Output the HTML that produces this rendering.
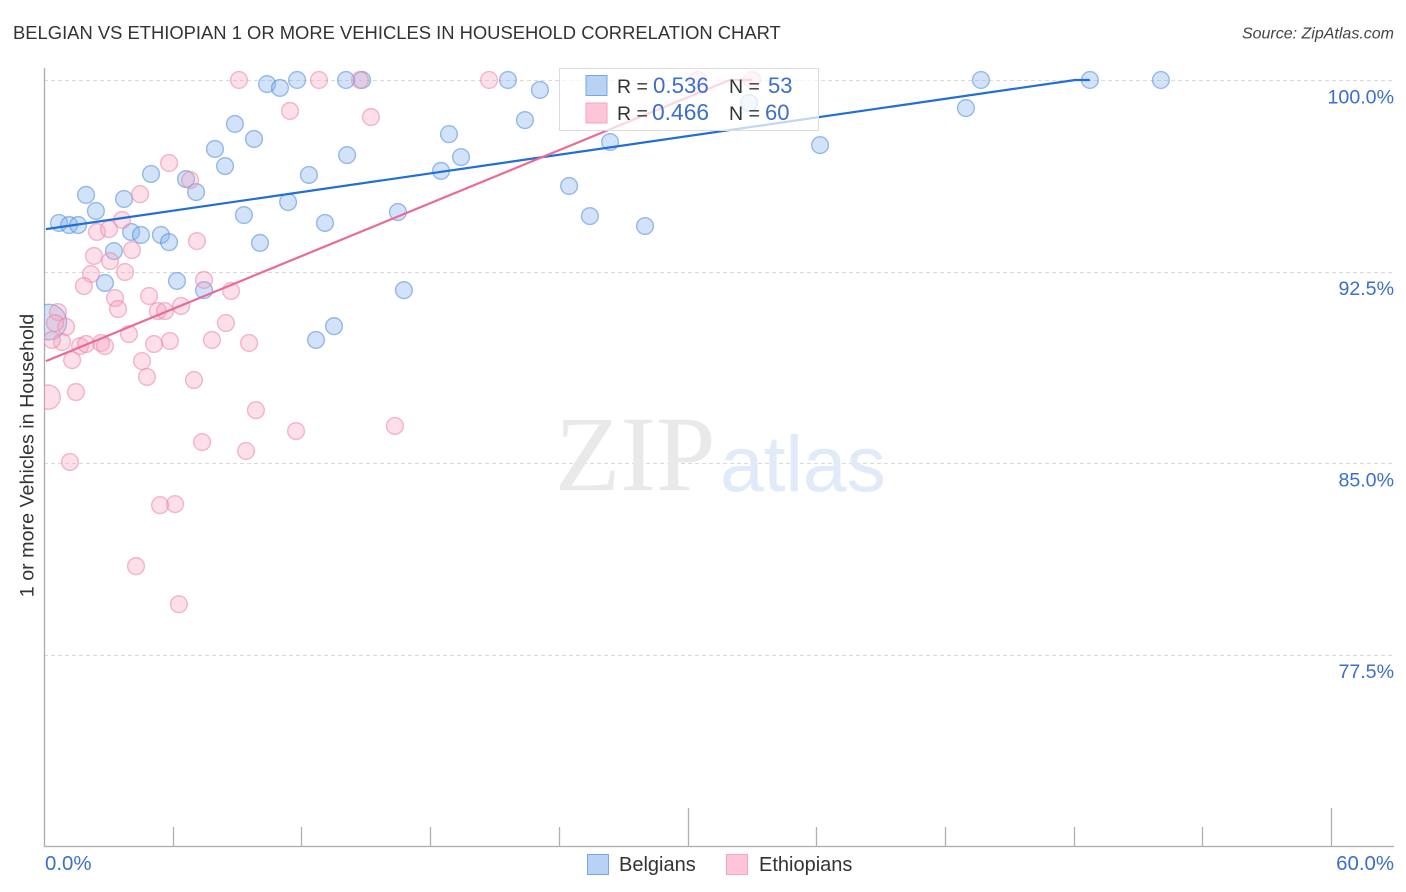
<!DOCTYPE html>
<html lang="en">
<head>
<meta charset="utf-8">
<title>Belgian vs Ethiopian 1 or More Vehicles in Household Correlation Chart</title>
<style>
html,body{margin:0;padding:0;background:#fff;}
body{width:1406px;height:892px;overflow:hidden;}
svg{display:block;font-family:"Liberation Sans",sans-serif;}
</style>
</head>
<body>
<svg id="chart" width="1406" height="892" viewBox="0 0 1406 892" xmlns="http://www.w3.org/2000/svg">
  <defs>
    <clipPath id="plot-clip"><rect x="44" y="60" width="1350" height="786"/></clipPath>
  </defs>
  <text x="13" y="39" font-size="18.4" fill="#333">BELGIAN VS ETHIOPIAN 1 OR MORE VEHICLES IN HOUSEHOLD CORRELATION CHART</text>
  <text x="1394" y="38.500" font-size="16" font-style="italic" fill="#444" text-anchor="end">Source: ZipAtlas.com</text>
  <g id="grid"></g>
  <g>
    <text x="555" y="490" font-family="'Liberation Serif',serif" font-size="107" fill="#e9e9e9">ZIP</text>
    <text x="720" y="491" font-size="78.500" fill="#e0eaf9">atlas</text>
  </g>
  <g id="axes"></g>
  <g id="points" clip-path="url(#plot-clip)"></g>
  <g id="trends" clip-path="url(#plot-clip)"></g>
  <text transform="translate(33.500,455.500) rotate(-90)" font-size="19.700" fill="#333" text-anchor="middle">1 or more Vehicles in Household</text>
  <g id="ytick-labels"></g>
  <g id="xtick-labels"></g>
  <g>
    <rect x="559.500" y="68.500" width="259" height="62" fill="#fff" fill-opacity="0.72" stroke="#dcdcdc"/>
    <rect x="586" y="75.500" width="21" height="20" fill="#b7d2f5" stroke="#7ba7e0"/>
    <rect x="586" y="103" width="21" height="20" fill="#fec5d6" stroke="#f0a6bf"/>
    <text x="617" y="93" font-size="19.500" fill="#333">R =</text>
    <text x="653" y="93" font-size="22.300" fill="#3b6fc9">0.536</text>
    <text x="729" y="93" font-size="19.500" fill="#333">N =</text>
    <text x="768" y="93" font-size="22" fill="#3b6fc9">53</text>
    <text x="617" y="120" font-size="19.500" fill="#333">R =</text>
    <text x="652" y="120" font-size="22.800" fill="#3b6fc9">0.466</text>
    <text x="729" y="120" font-size="19.500" fill="#333">N =</text>
    <text x="765" y="120" font-size="22" fill="#3b6fc9">60</text>
  </g>
  <g>
    <rect x="587.500" y="854.500" width="21" height="20" fill="#b7d2f5" stroke="#7ba7e0"/>
    <text x="619" y="871" font-size="20" fill="#333">Belgians</text>
    <rect x="726.500" y="854.500" width="21" height="20" fill="#fec5d6" stroke="#f0a6bf"/>
    <text x="759" y="871" font-size="20" fill="#333">Ethiopians</text>
  </g>
</svg>
<script>
const yTickValues = [100, 92.5, 85, 77.5];
const yTickLabels = ["100.0%", "92.5%", "85.0%", "77.5%"];
const xTickValues = [0, 6, 12, 18, 24, 30, 36, 42, 48, 54, 60];
const xTickMajor = [30, 60];
const xEdgeLabels = ["0.0%", "60.0%"];

const belgianX = [0.70,1.17,1.59,1.96,2.42,3.26,2.84,3.73,4.06,4.52,4.99,5.45,5.83,6.20,6.62,7.09,7.46,7.97,8.44,8.90,9.32,9.79,10.07,10.40,11.00,11.38,11.80,12.35,12.68,13.10,13.52,14.08,14.13,14.83,16.50,16.78,18.51,18.88,19.44,21.63,22.42,23.12,24.48,25.45,26.39,28.02,32.87,36.18,42.98,43.68,48.76,52.07,0.23];
const belgianY = [94.40,94.32,94.32,95.50,94.87,93.30,92.05,95.34,94.05,93.93,96.32,93.93,93.65,92.13,96.12,95.61,91.77,97.30,96.63,98.28,94.71,97.69,93.62,99.84,99.69,95.22,100,96.28,89.82,94.40,90.36,100,97.06,100,94.83,91.77,96.44,97.88,96.98,100,98.43,99.61,95.85,94.67,97.57,94.28,99.10,97.45,98.90,100,100,100,90.52];
const belgianLargeIndex = [52];

const ethiopianX = [9.09,12.82,14.73,20.75,30.49,33.01,11.47,15.24,5.83,6.81,4.48,3.64,2.47,3.03,7.13,4.10,2.33,3.08,2.19,3.78,1.86,7.46,8.72,3.31,4.90,3.45,6.39,5.31,5.64,0.65,8.48,1.03,0.51,0.84,0.37,3.96,5.87,7.83,9.56,5.13,1.68,1.96,2.66,2.84,1.31,4.57,4.80,6.99,0.19,1.49,9.88,16.36,11.75,7.37,9.42,1.21,6.11,5.41,4.29,6.29];
const ethiopianY = [100,100,100,100,100,100,98.79,98.55,96.75,96.08,95.53,94.52,94.05,94.16,93.69,93.34,93.11,92.91,92.40,92.48,91.93,92.17,91.74,91.46,91.54,91.03,91.15,90.95,90.95,90.91,90.48,90.33,90.48,89.74,89.82,90.05,89.78,89.82,89.70,89.66,89.58,89.66,89.70,89.58,89.03,88.99,88.37,88.25,87.58,87.78,87.07,86.45,86.25,85.82,85.47,85.04,83.39,83.35,80.96,79.47];
const ethiopianLargeIndex = [48];

const belgianTrendX = [0.09, 48.07, 48.76];
const belgianTrendY = [94.16, 100, 100];
const ethiopianTrendX = [0.09, 31.98, 33.01];
const ethiopianTrendY = [88.99, 100, 100];

const NS = "http://www.w3.org/2000/svg";
function xScale(v) { return 44 + v * (1287 / 60); }
function yScale(v) { return 80 + (100 - v) * (766 / 30); }
function make(tag, attrs, parent) {
  const el = document.createElementNS(NS, tag);
  Object.keys(attrs).forEach(function (k) { el.setAttribute(k, attrs[k]); });
  parent.appendChild(el);
  return el;
}

const gridGroup = document.getElementById("grid");
yTickValues.forEach(function (v) {
  const y = Math.round(yScale(v)) + 0.5;
  const line = make("line", {x1: 44, x2: 1394, y1: y, y2: y, stroke: "#dadada", "stroke-dasharray": "4 3"}, gridGroup);
  
  
});

const axesGroup = document.getElementById("axes");
const yAxisLine = make("line", {x1: 44.5, x2: 44.5, y1: 68, y2: 846, stroke: "#aaa", "stroke-width": 1.3}, axesGroup);


const xAxisLine = make("line", {x1: 44, x2: 1394, y1: 846.5, y2: 846.5, stroke: "#aaa", "stroke-width": 1.3}, axesGroup);


xTickValues.forEach(function (v) {
  if (v === 0) return;
  const x = Math.round(xScale(v)) + 0.5;
  const top = xTickMajor.indexOf(v) >= 0 ? 808 : 827;
  const tick = make("line", {x1: x, x2: x, y1: top, y2: 846, stroke: "#b0b0b0", "stroke-width": 1.3}, axesGroup);
  
  
});

const yLabelGroup = document.getElementById("ytick-labels");
yTickValues.forEach(function (v, i) {
  const t = make("text", {x: 1394, y: yScale(v) + 23.5, "font-size": 19.6, fill: "#3b6fc9", "text-anchor": "end"}, yLabelGroup);
  
  
  t.textContent = yTickLabels[i];
});

const xLabelGroup = document.getElementById("xtick-labels");
const xLabelLeft = make("text", {x: 45, y: 870, "font-size": 20.4, fill: "#3b6fc9"}, xLabelGroup);


xLabelLeft.textContent = xEdgeLabels[0];
const xLabelRight = make("text", {x: 1394, y: 870, "font-size": 20.4, fill: "#3b6fc9", "text-anchor": "end"}, xLabelGroup);


xLabelRight.textContent = xEdgeLabels[1];

const pointGroup = document.getElementById("points");
function drawPoints(xs, ys, large, fill, stroke, name, bigR) {
  xs.forEach(function (v, i) {
    const r = large.indexOf(i) >= 0 ? bigR : 8.4;
    const c = make("circle", {cx: xScale(v), cy: yScale(ys[i]), r: r, fill: fill, "fill-opacity": 0.35, stroke: stroke, "stroke-opacity": 0.55, "stroke-width": 1.4}, pointGroup);
    
    
  });
}
drawPoints(belgianX, belgianY, belgianLargeIndex, "#7fb0ee", "#4f8ad8", "belgian-point", 17.7);
drawPoints(ethiopianX, ethiopianY, ethiopianLargeIndex, "#f7a3bd", "#e983a5", "ethiopian-point", 12.2);

const trendGroup = document.getElementById("trends");
function drawTrend(xs, ys, color, name) {
  const pts = xs.map(function (v, i) { return xScale(v) + "," + yScale(ys[i]); }).join(" ");
  const p = make("polyline", {points: pts, fill: "none", stroke: color, "stroke-width": 2.2}, trendGroup);
  
  
}
drawTrend(belgianTrendX, belgianTrendY, "#1f6fd6", "belgian-trend-line");
drawTrend(ethiopianTrendX, ethiopianTrendY, "#ea6b97", "ethiopian-trend-line");
</script>
</body>
</html>
